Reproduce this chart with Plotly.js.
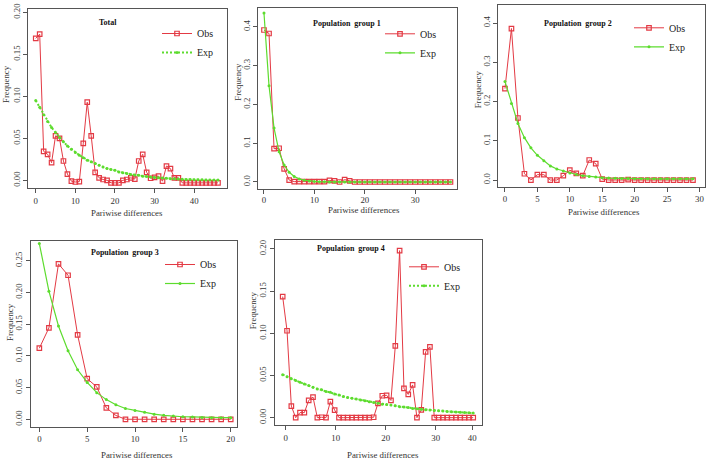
<!DOCTYPE html>
<html>
<head>
<meta charset="utf-8">
<script src="https://cdn.plot.ly/plotly-3.0.1.min.js"></script>
<style>html,body{margin:0;padding:0;background:#fff;}</style>
</head>
<body>
<div id="graphDiv" style="width:708px;height:461px;"></div>
<script>
// Mismatch distributions: observed vs expected frequency of pairwise differences

var totalObs = [0.169, 0.174, 0.0345, 0.031, 0.021, 0.053, 0.050, 0.023, 0.0075, -0.001,
  -0.002, -0.0015, 0.044, 0.093, 0.053, 0.0095, 0.003, 0.001, 0.0, -0.003,
  -0.003, -0.003, 0.0, 0.001, 0.003, 0.0015, 0.023, 0.031, 0.0095, 0.0025,
  0.0035, 0.005, -0.001, 0.017, 0.014, 0.003, 0.003, -0.003, -0.003, -0.003,
  -0.003, -0.003, -0.003, -0.003, -0.003, -0.003, -0.003];
var totalExp = [0.095, 0.087, 0.078, 0.070, 0.063, 0.057, 0.051, 0.046, 0.041, 0.037,
  0.033, 0.030, 0.027, 0.024, 0.022, 0.020, 0.018, 0.016, 0.014, 0.013,
  0.012, 0.010, 0.009, 0.008, 0.007, 0.0065, 0.006, 0.005, 0.0045, 0.004,
  0.0035, 0.003, 0.0027, 0.0024, 0.002, 0.0018, 0.0015, 0.0013, 0.0011, 0.001,
  0.0008, 0.0007, 0.0006, 0.0005, 0.0004, 0.0003, 0.0003];

var g1Obs = [0.392, 0.383, 0.086, 0.087, 0.034, 0.005, 0.001, 0.001, 0.001, 0.001,
  0.001, 0.001, 0.001, 0.004, 0.003, 0.0, 0.006, 0.003, 0, 0,
  0, 0, 0, 0, 0, 0, 0, 0, 0, 0,
  0, 0, 0, 0, 0, 0, 0, 0];
var g1Exp = [0.436, 0.248, 0.139, 0.078, 0.044, 0.025, 0.014, 0.008, 0.0045, 0.0025,
  0.0014, 0.0008, 0.0005, 0.0003, 0.0002, 0.0001, 0, 0, 0, 0,
  0, 0, 0, 0, 0, 0, 0, 0, 0, 0,
  0, 0, 0, 0, 0, 0, 0, 0];

var g2Obs = [0.233, 0.386, 0.158, 0.016, 0.0, 0.0136, 0.0136, 0.0, 0.0, 0.011,
  0.025, 0.017, 0.011, 0.051, 0.042, 0.0025, 0, 0, 0, 0.001,
  0, 0, 0, 0, 0, 0, 0, 0, 0, 0];
var g2Exp = [0.251, 0.195, 0.144, 0.108, 0.082, 0.063, 0.049, 0.036, 0.028, 0.023,
  0.018, 0.014, 0.011, 0.009, 0.0076, 0.006, 0.005, 0.0045, 0.004, 0.004,
  0.0035, 0.0035, 0.003, 0.003, 0.003, 0.003, 0.003, 0.003, 0.003, 0.003];

var g3Obs = [0.112, 0.144, 0.245, 0.227, 0.133, 0.064, 0.051, 0.018, 0.006, 0,
  0, 0, 0, 0, 0, 0, 0, 0, 0, 0, 0];
var g3Exp = [0.277, 0.202, 0.147, 0.108, 0.078, 0.058, 0.042, 0.031, 0.023, 0.017,
  0.014, 0.011, 0.008, 0.0063, 0.005, 0.004, 0.0037, 0.003, 0.0026, 0.0026, 0.0026];

// group 4 points sit off the integer ticks in the source figure
var g4Diff = [-0.6, 0.27, 1.13, 2.0, 2.86, 3.73, 4.6, 5.46, 6.33, 7.19,
  8.06, 8.93, 9.79, 10.66, 11.52, 12.39, 13.26, 14.12, 14.99, 15.85,
  16.72, 17.59, 18.45, 19.32, 20.18, 21.05, 21.92, 22.78, 23.65, 24.51,
  25.38, 26.25, 27.11, 27.98, 28.84, 29.71, 30.58, 31.44, 32.31, 33.17,
  34.04, 34.91, 35.77, 36.64, 37.5];
var g4Obs = [0.1435, 0.103, 0.0137, 0, 0.006, 0.006, 0.0204, 0.0244, 0, 0.0005,
  0, 0.019, 0.009, 0, 0, 0, 0, 0, 0, 0,
  0, 0.0005, 0.017, 0.026, 0.0265, 0.0204, 0.085, 0.198, 0.0348, 0.0276,
  0.0388, 0, 0.0092, 0.078, 0.084, 0, 0, 0, 0, 0,
  0, 0, 0, 0, 0];
var g4Exp = [0.051, 0.0485, 0.046, 0.044, 0.042, 0.040, 0.038, 0.036, 0.034, 0.033,
  0.031, 0.030, 0.028, 0.027, 0.025, 0.024, 0.023, 0.022, 0.021, 0.020,
  0.019, 0.018, 0.017, 0.016, 0.0155, 0.015, 0.014, 0.013, 0.0125, 0.012,
  0.011, 0.0105, 0.010, 0.0095, 0.009, 0.0086, 0.0082, 0.0078, 0.0074, 0.007,
  0.0067, 0.0064, 0.0061, 0.0058, 0.0055];

var g4TickVals = [0, 10, 20, 30, 37.3];
var g4TickText = ['0', '10', '20', '30', '40'];

var serif = 'Liberation Serif, Times New Roman, serif';
var red = '#e33a44';
var green = '#5ddc2e';
var boxColor = '#555';

function steps(n) {
  var a = [];
  for (var i = 0; i < n; i++) a.push(i);
  return a;
}

var data = [];
var layout = {
  width: 708,
  height: 461,
  margin: {l: 0, r: 0, t: 0, b: 0},
  paper_bgcolor: '#fff',
  plot_bgcolor: '#fff',
  font: {family: serif, size: 9, color: '#333'},
  annotations: []
};

function label(text, pos, size, angle, color) {
  return {
    text: text, xref: 'paper', yref: 'paper', showarrow: false,
    x: pos[0] / 708, y: 1 - pos[1] / 461, xanchor: 'center', yanchor: 'middle',
    textangle: angle, font: {family: serif, size: size, color: color}
  };
}

function addPanel(n, p) {
  var sfx = n === 1 ? '' : String(n);
  var legName = 'legend' + sfx;
  data.push({
    x: p.x, y: p.obs, name: 'Obs', xaxis: 'x' + sfx, yaxis: 'y' + sfx, legend: legName,
    mode: 'lines+markers', type: 'scatter',
    line: {color: red, width: 1},
    marker: {symbol: 'square-open', size: 4.5, color: red, line: {width: 1.2, color: red}}
  });
  data.push({
    x: p.x, y: p.exp, name: 'Exp', xaxis: 'x' + sfx, yaxis: 'y' + sfx, legend: legName,
    mode: 'lines+markers', type: 'scatter',
    line: {color: green, width: p.dense ? 2 : 1.2, dash: p.dense ? '2px,2px' : 'solid'},
    marker: {size: 3, color: green}
  });

  var common = {
    showline: true, mirror: true, linecolor: boxColor, linewidth: 1,
    ticks: 'outside', ticklen: 4, tickcolor: boxColor, tickwidth: 1,
    showgrid: false, zeroline: false, ticklabeloverflow: 'allow',
    tickfont: {family: serif, size: 8.8, color: '#333'}
  };
  layout['xaxis' + sfx] = Object.assign({}, common, {
    domain: p.xdom, range: p.xrange, anchor: 'y' + sfx, ticklabelstandoff: p.xstand,
    tickmode: 'array', tickvals: p.xticks, ticktext: p.xtext || p.xticks.map(String)
  });
  layout['yaxis' + sfx] = Object.assign({}, common, {
    domain: p.ydom, range: p.yrange, anchor: 'x' + sfx,
    tickmode: 'linear', tick0: 0, dtick: p.dtick, tickformat: p.fmt, tickangle: -90
  });

  layout[legName] = {
    x: p.leg[0] / 708, y: 1 - p.leg[1] / 461, xanchor: 'left', yanchor: 'top',
    bgcolor: 'rgba(0,0,0,0)', borderwidth: 0,
    font: {family: serif, size: 10, color: '#222'}, tracegroupgap: 0
  };

  layout.annotations.push(label('<b>' + p.title + '</b>', p.titlePos, 8, 0, '#111'));
  layout.annotations.push(label('Frequency', p.ylabPos, 8.8, -90, '#333'));
  layout.annotations.push(label('Pariwise differences', p.xlabPos, 8.8, 0, '#333'));
}

addPanel(1, {
  x: steps(totalObs.length), obs: totalObs, exp: totalExp, dense: true,
  title: 'Total',
  xdom: [0.0400, 0.3202], ydom: [0.5915, 0.9798],
  xrange: [-1.87, 48.2], yrange: [-0.0095, 0.2036],
  xticks: [0, 10, 20, 30, 40], xstand: 0, dtick: 0.05, fmt: '.2f',
  leg: [157, 19], titlePos: [108, 22.7], ylabPos: [6, 84], xlabPos: [127, 213]
});
addPanel(2, {
  x: steps(g1Obs.length), obs: g1Obs, exp: g1Exp, dense: false,
  title: 'Population\u00a0 group 1',
  xdom: [0.3648, 0.6459], ydom: [0.5894, 0.9820],
  xrange: [-1.13, 38.35], yrange: [-0.0188, 0.448],
  xticks: [0, 10, 20, 30], xstand: -2, dtick: 0.1, fmt: '.1f',
  leg: [380, 19.3], titlePos: [347.3, 23.3], ylabPos: [237.7, 82], xlabPos: [364.3, 210]
});
addPanel(3, {
  x: steps(g2Obs.length), obs: g2Obs, exp: g2Exp, dense: false,
  title: 'Population\u00a0 group 2',
  xdom: [0.7038, 0.9958], ydom: [0.5950, 0.9892],
  xrange: [-1.03, 30.86], yrange: [-0.017, 0.446],
  xticks: [0, 5, 10, 15, 20, 25, 30], xstand: 0, dtick: 0.1, fmt: '.1f',
  leg: [629, 13.3], titlePos: [578.3, 23.3], ylabPos: [478.3, 89], xlabPos: [604.3, 212]
});
addPanel(4, {
  x: steps(g3Obs.length), obs: g3Obs, exp: g3Exp, dense: false,
  title: 'Population\u00a0 group 3',
  xdom: [0.0434, 0.3352], ydom: [0.0744, 0.4772],
  xrange: [-0.9, 20.69], yrange: [-0.0117, 0.281],
  xticks: [0, 5, 10, 15, 20], xstand: 0, dtick: 0.05, fmt: '.2f',
  leg: [160, 250], titlePos: [125, 252.3], ylabPos: [10, 322], xlabPos: [136.7, 455]
});
addPanel(5, {
  x: g4Diff, obs: g4Obs, exp: g4Exp, dense: true,
  title: 'Population\u00a0 group 4',
  xdom: [0.3884, 0.6804], ydom: [0.0781, 0.4794],
  xrange: [-2.14, 39.2], yrange: [-0.0087, 0.2106],
  xticks: g4TickVals, xtext: g4TickText, xstand: 0, dtick: 0.05, fmt: '.2f',
  leg: [404, 252.3], titlePos: [351, 249], ylabPos: [253.3, 310], xlabPos: [383.3, 455]
});

Plotly.newPlot('graphDiv', data, layout, {staticPlot: true});
</script>
</body>
</html>
